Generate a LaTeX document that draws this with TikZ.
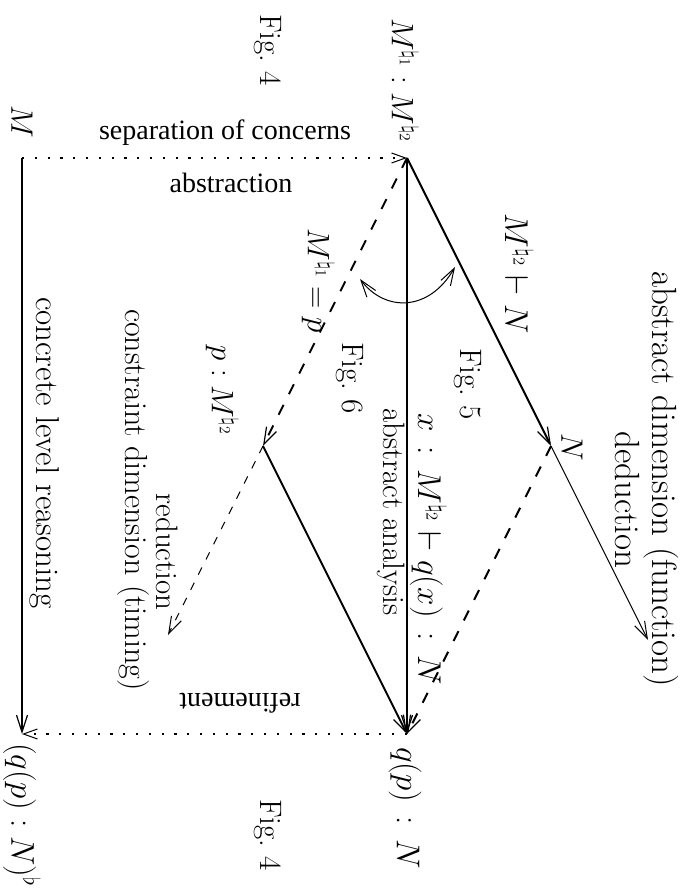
\documentclass[tikz,border=0pt]{standalone}
\usepackage{fix-cm}
\usepackage{fontspec}
\newfontfamily\timesf{Liberation Serif}
\usetikzlibrary{arrows.meta}
\tikzset{
  lbl/.style={inner sep=0pt, rotate=-90, font=\fontsize{31}{36}\selectfont},
  lblb/.style={lbl, font=\fontsize{33}{38}\selectfont},
  lblc/.style={lbl, font=\fontsize{35}{40}\selectfont},
  tlbl/.style={inner sep=0pt, font=\timesf\fontsize{28}{33}\selectfont},
  thickln/.style={line width=2pt, -{Straight Barb[length=17pt,width=11pt,line width=1.2pt]}},
  thinln/.style={line width=1pt, -{Straight Barb[length=17pt,width=11pt,line width=1pt]}},
  thickdash/.style={thickln, dash pattern=on 11pt off 12pt},
  thindash/.style={thinln, dash pattern=on 8pt off 9pt},
  dotln/.style={line width=2.2pt, dash pattern=on 2.2pt off 10.6pt, -{Straight Barb[length=14pt,width=10pt,line width=1pt]}},
}
\begin{document}
\begin{tikzpicture}[x=1pt,y=-1pt]
\useasboundingbox (0,0) rectangle (692,890);
% points
\coordinate (Mc) at (22,158);
\coordinate (A) at (407,158);
\coordinate (N) at (551,446);
\coordinate (P) at (263,446);
\coordinate (B) at (407,734);
\coordinate (Mb) at (22,734);
\coordinate (D) at (648,640);
\coordinate (R) at (168,635);
\coordinate (cl) at (360,279);
\coordinate (cr) at (455,267);
% connectors
\draw[thickln] (Mc) -- (Mb);
\draw[dotln] (Mc) -- (A);
\draw[thickln] (A) -- (B);
\draw[thickln] (A) -- (N);
\draw[thinln] (N) -- (D);
\draw[thickdash] (A) -- (P);
\draw[thindash] (P) -- (R);
\draw[thickln] (P) -- (B);
\draw[thickdash] (N) -- (B);
\draw[dotln] (B) -- (Mb);
\draw[line width=1pt, {Straight Barb[length=17pt,width=11pt,line width=1pt]}-{Straight Barb[length=17pt,width=11pt,line width=1pt]}]
  (cl) .. controls (385,312) and (429,312) .. (cr);
% labels
\node[lbl] (lMM) at (405,80) {$M^{\natural_1} : M^{\natural_2}$};
\node[lbl] (lF4a) at (268,50) {Fig.~4};
\node[lbl] (lM) at (22,122) {$M$};
\node[tlbl] (lsep) at (225,133) {separation of concerns};
\node[tlbl] (labs) at (231,183) {abstraction};
\node[lbl] (lMp) at (318,281) {$M^{\natural_1} = p$};
\node[lblb] (lMN) at (519,274) {$M^{\natural_2} \vdash N$};
\node[lbl] (lF5) at (468,384) {Fig.~5};
\node[lbl] (lF6) at (350,378) {Fig.~6};
\node[lblb] (lx) at (428,549) {$x \mathrel{\,:\,} M^{\natural_2} \vdash q(x) \mathrel{\,:\,} N$};
\node[lbl] (laa) at (391,512) {abstract analysis};
\node[lbl] (lpM) at (222,390) {$p : M^{\natural_2}$};
\node[lbl] (lred) at (167,552) {reduction};
\node[lbl, font=\fontsize{32}{37}\selectfont] (lcon) at (133,500) {constraint dimension (timing)};
\node[lblb] (lconc) at (45,453) {concrete level reasoning};
\node[lbl] (lN) at (572,447) {$N$};
\node[tlbl, rotate=180] (lref) at (240,703) {refinement};
\node[lblb] (lqp) at (405,808) {$q(p) \mathrel{\,:\,} N$};
\node[lbl] (lF4b) at (268,835) {Fig.~4};
\node[lblb] (lqpf) at (22,815) {$(q(p) \mathrel{:} N)^\flat$};
\node[lblc] (lad) at (661,479) {abstract dimension (function)};
\node[lblc] (lded) at (627,500) {deduction};
\end{tikzpicture}
\end{document}
